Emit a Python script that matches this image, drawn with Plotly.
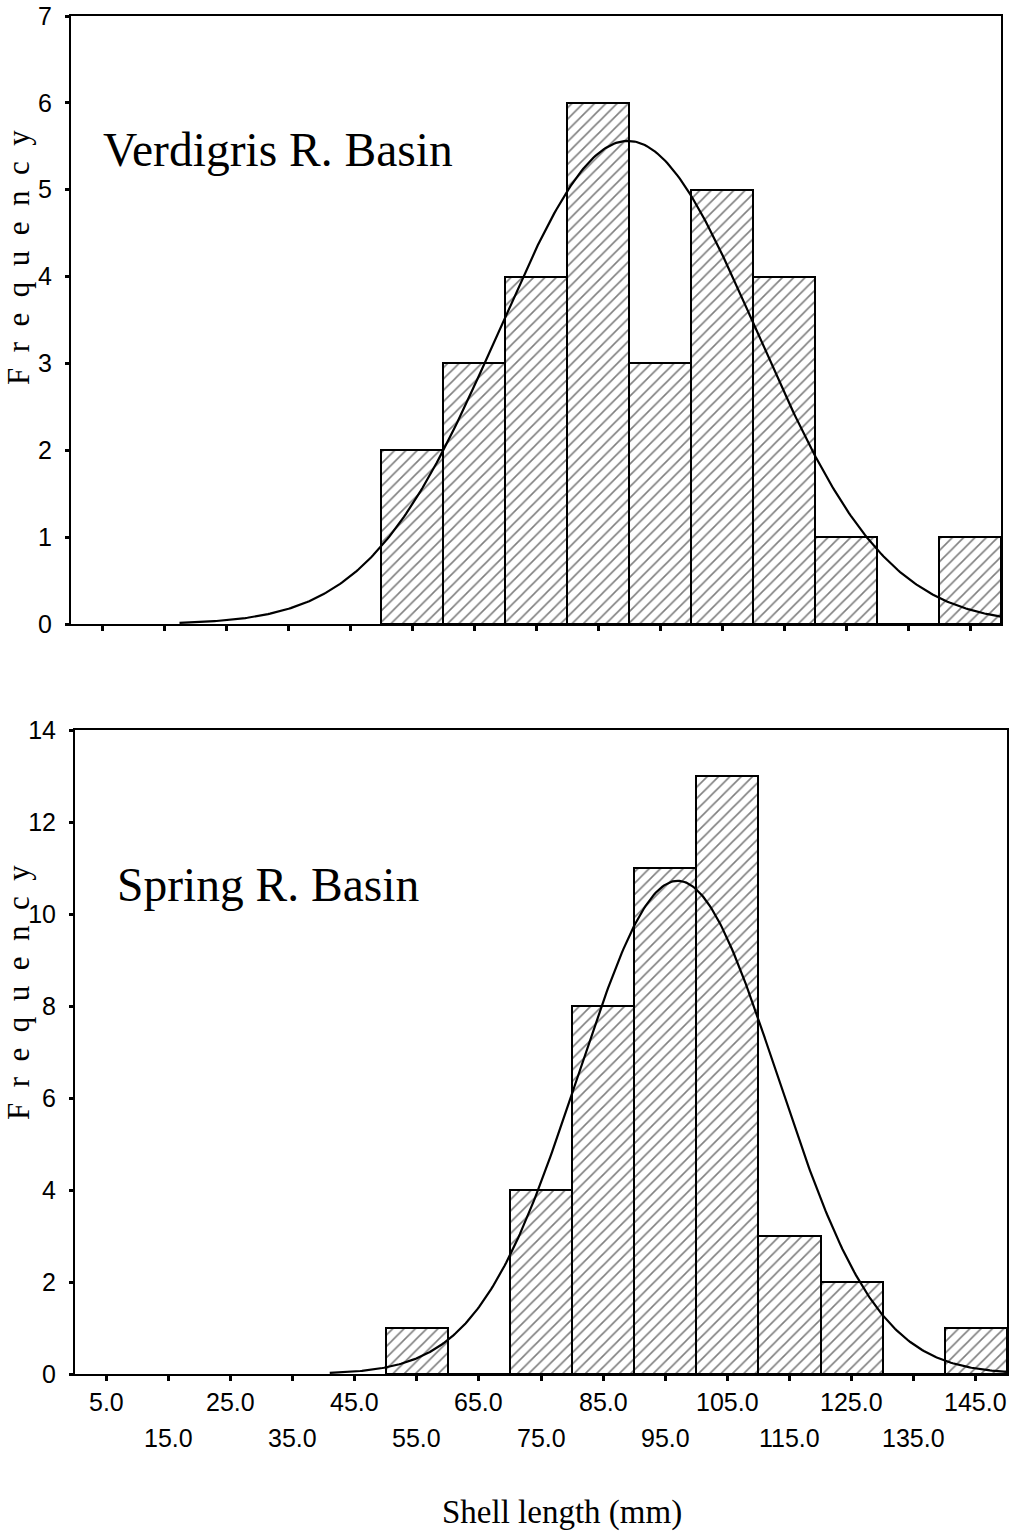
import numpy as np
import plotly.graph_objects as go

# ---- data ----
bin_centers = [55, 65, 75, 85, 95, 105, 115, 125, 135, 145]
bin_width = 10
verdigris_counts = [2, 3, 4, 6, 3, 5, 4, 1, 0, 1]
spring_counts = [1, 0, 4, 8, 11, 13, 3, 2, 0, 1]

# fitted normal curves
verdigris_mean, verdigris_sd, verdigris_start = 89.8, 20.8, 17.5
spring_mean, spring_sd, spring_start = 97.0, 16.0, 41.0

x_ticks = [5, 15, 25, 35, 45, 55, 65, 75, 85, 95, 105, 115, 125, 135, 145]
x_tick_labels = ["5.0", "15.0", "25.0", "35.0", "45.0", "55.0", "65.0", "75.0",
                 "85.0", "95.0", "105.0", "115.0", "125.0", "135.0", "145.0"]
top_y_ticks = [0, 1, 2, 3, 4, 5, 6, 7]
bottom_y_ticks = [0, 2, 4, 6, 8, 10, 12, 14]

W, H = 1013, 1531
ML, MR, MT, MB = 71, 6, 16, 157
PW = W - ML - MR
PH = H - MT - MB
PLOT_BOTTOM = H - MB


def px_x(p):
    return (p - ML) / PW


def px_y(p):
    return (PLOT_BOTTOM - p) / PH


def normal_curve(mean, sd, n, start):
    xs = np.linspace(start, 150, 400)
    ys = n * bin_width / (sd * np.sqrt(2 * np.pi)) * np.exp(-0.5 * ((xs - mean) / sd) ** 2)
    return xs, ys


fig = go.Figure()

bar_style = dict(
    color="white",
    line=dict(color="black", width=2),
    pattern=dict(shape="/", fgcolor="black", bgcolor="white", size=8, solidity=0.2),
)

fig.add_trace(go.Bar(x=bin_centers, y=verdigris_counts, width=bin_width,
                     marker=bar_style, xaxis="x", yaxis="y", showlegend=False))
fig.add_trace(go.Bar(x=bin_centers, y=spring_counts, width=bin_width,
                     marker=bar_style, xaxis="x2", yaxis="y2", showlegend=False))

vx, vy = normal_curve(verdigris_mean, verdigris_sd, sum(verdigris_counts), verdigris_start)
sx, sy = normal_curve(spring_mean, spring_sd, sum(spring_counts), spring_start)
fig.add_trace(go.Scatter(x=vx, y=vy, mode="lines", line=dict(color="black", width=2.2),
                         xaxis="x", yaxis="y", showlegend=False))
fig.add_trace(go.Scatter(x=sx, y=sy, mode="lines", line=dict(color="black", width=2.2),
                         xaxis="x2", yaxis="y2", showlegend=False))

tick_font = dict(family="Liberation Sans", size=25, color="black")
axis_common = dict(showline=True, linewidth=2, linecolor="black", mirror=True,
                   showgrid=False, zeroline=False, ticks="outside", tickcolor="black",
                   automargin=False)

fig.update_layout(
    width=W, height=H,
    margin=dict(l=ML, r=MR, t=MT, b=MB, autoexpand=False),
    paper_bgcolor="white", plot_bgcolor="white",
    bargap=0,
    xaxis=dict(domain=[0, min(px_x(1001), 1)], range=[0, 150], anchor="y",
               tickvals=x_ticks, showticklabels=False, ticklen=5, tickwidth=3,
               **axis_common),
    yaxis=dict(domain=[px_y(624), 1], range=[0, 7], anchor="x",
               tickvals=top_y_ticks, ticklen=4, tickwidth=3, tickfont=tick_font,
               ticklabelstandoff=8, ticklabeloverflow="allow", **axis_common),
    xaxis2=dict(domain=[px_x(75), 1], range=[0, 150], anchor="y2",
                tickvals=x_ticks, showticklabels=False, ticklen=5, tickwidth=3,
                **axis_common),
    yaxis2=dict(domain=[0, px_y(730)], range=[0, 14], anchor="x2",
                tickvals=bottom_y_ticks, ticklen=4, tickwidth=3, tickfont=tick_font,
                ticklabelstandoff=8, ticklabeloverflow="allow", **axis_common),
)

annotations = []
# two-row x tick labels for the bottom panel
for i, (v, t) in enumerate(zip(x_ticks, x_tick_labels)):
    annotations.append(dict(
        x=v, xref="x2", y=0, yref="paper", text=t, showarrow=False,
        xanchor="center", yanchor="middle",
        yshift=-(1402 - 1374) if i % 2 == 0 else -(1438 - 1374),
        font=tick_font))

serif = "Liberation Serif"
ytitle = "\u2002".join(list("Frequency"))
annotations += [
    dict(x=px_x(18), y=px_y(258), xref="paper", yref="paper", text=ytitle,
         textangle=-90, showarrow=False, xanchor="center", yanchor="middle",
         font=dict(family=serif, size=31, color="black")),
    dict(x=px_x(18), y=px_y(993), xref="paper", yref="paper", text=ytitle,
         textangle=-90, showarrow=False, xanchor="center", yanchor="middle",
         font=dict(family=serif, size=31, color="black")),
    dict(x=px_x(101), y=px_y(150), xref="paper", yref="paper", text="Verdigris R. Basin",
         showarrow=False, xanchor="left", yanchor="middle",
         font=dict(family=serif, size=47.5, color="black")),
    dict(x=px_x(115), y=px_y(885), xref="paper", yref="paper", text="Spring R. Basin",
         showarrow=False, xanchor="left", yanchor="middle",
         font=dict(family=serif, size=47.5, color="black")),
    dict(x=px_x(562), y=px_y(1512), xref="paper", yref="paper", text="Shell length (mm)",
         showarrow=False, xanchor="center", yanchor="middle",
         font=dict(family=serif, size=33, color="black")),
]
fig.update_layout(annotations=annotations)

fig.write_html("out.html")
